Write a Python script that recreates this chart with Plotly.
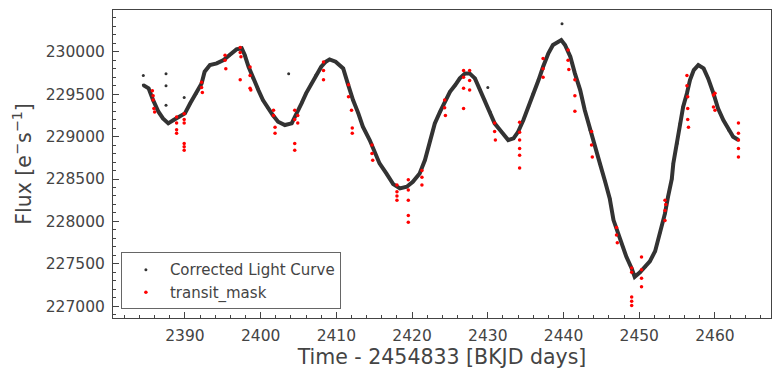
import plotly.graph_objects as go

# Corrected light curve (band centre)
lc_time = [2384.5, 2385.2, 2385.8, 2386.5, 2387.1, 2387.8, 2388.5, 2389.3, 2390.0, 2390.7,
           2391.5, 2392.2, 2392.6, 2393.3, 2394.2, 2395.1, 2395.9, 2396.8, 2397.5, 2397.9,
           2398.4, 2399.0, 2399.7, 2400.3, 2401.0, 2401.6, 2402.3, 2403.2, 2404.1, 2404.7,
           2405.4, 2406.0, 2406.7, 2407.3, 2408.0, 2408.6, 2409.1, 2409.9, 2410.9, 2411.5,
           2412.2, 2412.9, 2413.5, 2414.4, 2415.1, 2415.7, 2416.6, 2417.5, 2418.4, 2419.3,
           2420.1, 2421.0, 2421.7, 2422.4, 2423.0, 2423.7, 2424.3, 2425.0, 2425.7, 2426.3,
           2427.0, 2427.6, 2428.3, 2429.0, 2429.6, 2430.3, 2430.9, 2431.8, 2432.7, 2433.4,
           2434.0, 2434.7, 2435.4, 2436.0, 2436.7, 2437.3, 2438.0, 2438.6, 2439.3, 2439.7,
           2440.2, 2440.9, 2441.5, 2442.2, 2442.8, 2443.5, 2444.2, 2444.8, 2445.5, 2446.1,
           2446.6, 2447.5, 2448.3, 2449.0, 2449.4, 2450.1, 2450.8, 2451.4, 2452.1, 2452.7,
           2453.4, 2453.8, 2454.3, 2454.5, 2455.0, 2455.4, 2455.8, 2456.3, 2456.7, 2457.2,
           2457.8, 2458.5, 2459.1, 2459.8, 2460.4, 2461.1, 2461.8, 2462.4, 2463.1]
lc_flux = [229607, 229568, 229430, 229293, 229215, 229156, 229195, 229234, 229274, 229392,
           229510, 229627, 229764, 229843, 229863, 229902, 229961, 230028, 230040, 229961,
           229823, 229686, 229548, 229430, 229333, 229254, 229175, 229136, 229156, 229254,
           229392, 229510, 229627, 229725, 229823, 229882, 229910, 229882, 229804, 229627,
           229430, 229274, 229116, 228959, 228802, 228684, 228566, 228440, 228390, 228409,
           228467, 228566, 228723, 228959, 229156, 229293, 229411, 229528, 229607, 229686,
           229745, 229745, 229686, 229548, 229430, 229293, 229156, 229057, 228959, 228979,
           229057, 229195, 229352, 229510, 229666, 229823, 229981, 230079, 230118, 230138,
           230079, 229941, 229745, 229548, 229313, 229077, 228880, 228684, 228467, 228272,
           228016, 227780, 227583, 227446, 227347, 227400, 227465, 227530, 227650, 227859,
           228095, 228290, 228500, 228684, 228920, 229156, 229352, 229510, 229666, 229784,
           229843, 229804, 229686, 229510, 229333, 229195, 229077, 228998, 228959]

# Isolated black outliers
out_time = [2384.5, 2387.5, 2387.5, 2387.5, 2389.9, 2403.7, 2430.0, 2439.8]
out_flux = [229720, 229740, 229600, 229370, 229460, 229740, 229580, 230330]

# transit_mask points
tm_time = [2385.7, 2385.8, 2385.8, 2385.9, 2386.0,
           2388.9, 2388.9, 2388.9, 2388.9,
           2389.9, 2389.9, 2389.9, 2389.9, 2389.9, 2389.9,
           2392.2, 2392.2, 2392.3,
           2395.3, 2395.3, 2395.4,
           2397.3, 2397.3, 2397.4, 2397.3,
           2398.6, 2398.6, 2398.6, 2398.7,
           2401.7, 2401.7, 2401.9, 2401.9,
           2404.5, 2404.5, 2404.5, 2404.5, 2404.9, 2404.9,
           2408.3, 2408.3, 2408.3,
           2411.6, 2411.6, 2412.0, 2412.1, 2412.1,
           2414.7, 2414.7, 2414.8,
           2418.0, 2418.0, 2418.0, 2418.0,
           2419.5, 2419.5, 2419.5, 2419.5, 2419.5,
           2421.3, 2421.3, 2421.3,
           2424.3, 2424.3, 2424.4,
           2426.8, 2426.8, 2426.8, 2426.8, 2427.6, 2427.6, 2427.6,
           2430.9, 2430.9, 2431.0,
           2434.2, 2434.2, 2434.2, 2434.2, 2434.2, 2434.2,
           2437.3, 2437.3, 2437.3,
           2440.6, 2440.6, 2440.7,
           2441.5, 2441.5, 2441.5,
           2443.7, 2443.7, 2443.8,
           2447.0, 2447.0, 2447.1,
           2449.0, 2449.0, 2449.0, 2449.0, 2449.0,
           2450.3, 2450.3, 2450.3, 2450.3,
           2453.4, 2453.4, 2453.4, 2453.5,
           2456.3, 2456.3, 2456.4, 2456.4, 2456.4, 2456.5,
           2459.8, 2459.8, 2460.0, 2460.0,
           2463.1, 2463.1, 2463.1, 2463.1, 2463.1]
tm_flux = [229540, 229480, 229430, 229330, 229290,
           229230, 229160, 229080, 229040,
           229270, 229200, 229160, 228920, 228880, 228840,
           229640, 229580, 229520,
           229960, 229900, 229800,
           230050, 229990, 229940, 229670,
           229820, 229720, 229570, 229550,
           229310, 229250, 229110, 229040,
           229310, 229200, 228920, 228840, 229250, 229160,
           229880, 229780, 229670,
           229610, 229470, 229310, 229100, 229040,
           228900, 228800, 228720,
           228430, 228350, 228300, 228250,
           228490, 228370, 228250, 228070, 227990,
           228600, 228520, 228430,
           229430, 229340, 229250,
           229780, 229700, 229570, 229330, 229780, 229660, 229550,
           229160, 229060, 228960,
           229170, 229050, 228960, 228860, 228780, 228630,
           229920, 229800, 229700,
           230020, 229900, 229790,
           229670, 229480, 229300,
           229060, 228900, 228760,
           227930, 227840, 227750,
           227450, 227400, 227110, 227060, 227010,
           227580, 227430, 227330, 227230,
           228250, 228130, 228010, 228200,
           229720, 229600, 229470, 229330, 229200, 229110,
           229490, 229350, 229510, 229310,
           229160, 229040, 228960, 228860, 228760]

x_ticks = [2390, 2400, 2410, 2420, 2430, 2440, 2450, 2460]
y_ticks = [227000, 227500, 228000, 228500, 229000, 229500, 230000]

DARK = "#333333"
AXC = "#444444"
FONT = "DejaVu Sans"

fig = go.Figure()
fig.add_trace(go.Scatter(x=lc_time, y=lc_flux, mode="lines",
                         line=dict(color=DARK, width=4), showlegend=False,
                         hoverinfo="skip"))
fig.add_trace(go.Scatter(x=lc_time + out_time, y=lc_flux + out_flux, mode="markers",
                         marker=dict(color=DARK, size=3),
                         name="Corrected Light Curve"))
fig.add_trace(go.Scatter(x=tm_time, y=tm_flux, mode="markers",
                         marker=dict(color="#ff0000", size=3.5),
                         name="transit_mask"))

axis_common = dict(
    showgrid=False, zeroline=False, showline=True, mirror=True, automargin=False,
    linecolor=AXC, linewidth=1, ticks="inside", tickcolor=AXC, ticklen=6,
    tickfont=dict(family=FONT, size=15.5, color=AXC),
)

fig.update_xaxes(**axis_common, range=[2380.5, 2467.4], tickmode="array",
                 tickvals=x_ticks, ticktext=[str(v) for v in x_ticks],
                 ticklabelstandoff=3,
                 minor=dict(ticks="inside", ticklen=3, tickcolor=AXC, dtick=2, tick0=2380),
                 title=dict(text="Time - 2454833 [BKJD days]",
                            font=dict(family=FONT, size=20.5, color=AXC), standoff=4))
fig.update_yaxes(**axis_common, range=[226862, 230492], tickmode="array",
                 tickvals=y_ticks, ticktext=[str(v) for v in y_ticks],
                 ticklabelstandoff=4,
                 minor=dict(ticks="inside", ticklen=3, tickcolor=AXC, dtick=100, tick0=227000),
                 title=dict(text="Flux [e<sup>−</sup>s<sup>−1</sup>]",
                            font=dict(family=FONT, size=20.5, color=AXC), standoff=8))

fig.update_layout(
    width=780, height=376,
    margin=dict(l=113, r=9, t=10, b=58),
    paper_bgcolor="white", plot_bgcolor="white",
    font=dict(family=FONT, color=AXC),
    legend=dict(x=0.012, y=0.028, xanchor="left", yanchor="bottom",
                bgcolor="white", bordercolor="#666666", borderwidth=1,
                font=dict(family=FONT, size=15, color=AXC),
                itemsizing="trace", itemwidth=38, tracegroupgap=0),
)

fig.write_html("out.html", config={"displayModeBar": False},
               post_script="document.body.style.margin='0';")
